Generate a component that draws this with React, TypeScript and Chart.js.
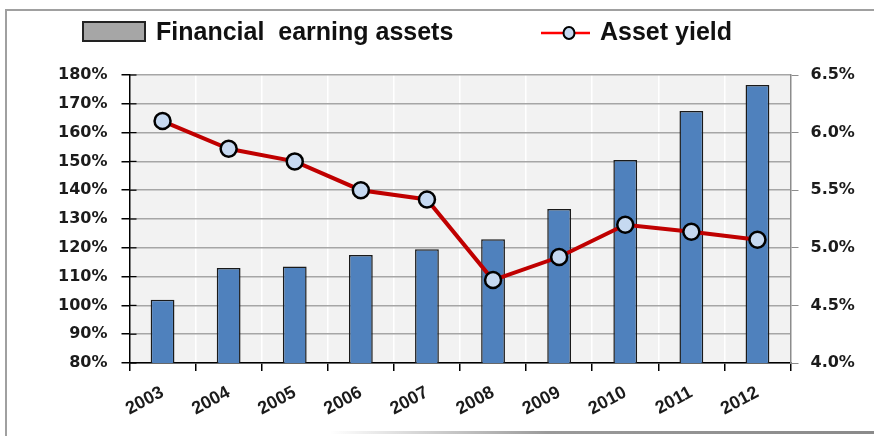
import React, { useEffect, useRef } from "react";
import { Chart, registerables } from "chart.js";

Chart.register(...registerables);

const years = ["2003", "2004", "2005", "2006", "2007", "2008", "2009", "2010", "2011", "2012"];
const assets = [102, 113, 113.5, 117.5, 119.5, 123, 133.5, 150.5, 167.5, 176.5];
const assetYield = [6.1, 5.86, 5.75, 5.5, 5.42, 4.72, 4.92, 5.2, 5.14, 5.07];
const barLabel = "Financial earning assets";
const lineLabel = "Asset yield";

const tickFont = { family: "DejaVu Sans", size: 16, weight: "bold" as const };
const xFont = { family: "Liberation Sans", size: 18, weight: "bold" as const };

const innerTicks = {
  id: "innerTicks",
  afterDatasetsDraw(chart: any) {
    const { ctx } = chart;
    const y = chart.scales.y;
    ctx.save();
    ctx.strokeStyle = "#000";
    ctx.lineWidth = 1.2;
    y.ticks.forEach((_t: any, i: number) => {
      const py = y.getPixelForTick(i);
      ctx.beginPath();
      ctx.moveTo(y.right, py);
      ctx.lineTo(y.right + 7, py);
      ctx.stroke();
    });
    ctx.restore();
  },
};

export default function App() {
  const ref = useRef<HTMLCanvasElement>(null);
  useEffect(() => {
    if (!ref.current) return;
    const chart = new Chart(ref.current, {
      type: "bar",
      data: {
        labels: years,
        datasets: [
          {
            type: "line",
            label: lineLabel,
            data: assetYield,
            yAxisID: "y1",
            borderColor: "#c00000",
            borderWidth: 4,
            pointRadius: 8,
            pointBackgroundColor: "#c6d9f1",
            pointBorderColor: "#000",
            pointBorderWidth: 2.5,
            tension: 0,
            order: 0,
          } as any,
          {
            type: "bar",
            label: barLabel,
            data: assets,
            yAxisID: "y",
            backgroundColor: "#4f81bd",
            borderColor: "#1a1a1a",
            borderWidth: 1.5,
            barPercentage: 0.36,
            categoryPercentage: 1,
            order: 1,
          },
        ],
      },
      options: {
        animation: false,
        responsive: false,
        maintainAspectRatio: false,
        layout: { padding: { top: 75, left: 0, right: 0, bottom: 0 } },
        plugins: { legend: { display: false }, tooltip: { enabled: false } },
        scales: {
          x: {
            offset: true,
            grid: { offset: true, color: "#ffffff", lineWidth: 1.5, tickColor: "#000", tickLength: 8 },
            border: { color: "#000", width: 1.5 },
            ticks: {
              font: xFont,
              color: "#1b1b1b",
              maxRotation: 28,
              minRotation: 28,
              autoSkip: false,
              padding: 11,
            },
            afterFit(s: any) {
              s.height = 73;
            },
          },
          y: {
            position: "left",
            min: 80,
            max: 180,
            ticks: {
              stepSize: 10,
              font: tickFont,
              color: "#1b1b1b",
              padding: 14,
              callback: (v: any) => v + "%",
            },
            grid: { color: "#a6a6a6", lineWidth: 1.5, tickColor: "#000", tickLength: 8 },
            border: { color: "#000", width: 1.5 },
            afterFit(s: any) {
              s.width = 129.5;
            },
          },
          y1: {
            position: "right",
            min: 4.0,
            max: 6.5,
            ticks: {
              stepSize: 0.5,
              font: tickFont,
              color: "#1b1b1b",
              padding: 12,
              callback: (v: any) => Number(v).toFixed(1) + "%",
            },
            grid: { drawOnChartArea: false, color: "#8c8c8c", tickColor: "#8c8c8c", tickLength: 8 },
            border: { color: "#8c8c8c", width: 1.5 },
            afterFit(s: any) {
              s.width = 83.5;
            },
          },
        },
      },
      plugins: [
        innerTicks,
        {
          id: "plotBg",
          beforeDraw(c: any) {
            const a = c.chartArea;
            c.ctx.save();
            c.ctx.fillStyle = "#f2f2f2";
            c.ctx.fillRect(a.left, a.top, a.right - a.left, a.bottom - a.top);
            c.ctx.restore();
          },
        },
      ],
    });
    return () => chart.destroy();
  }, []);

  const legendText: React.CSSProperties = {
    position: "absolute",
    top: 16,
    fontFamily: "Liberation Sans, Arial, sans-serif",
    fontWeight: "bold",
    fontSize: 25,
    lineHeight: "30px",
    color: "#111",
    whiteSpace: "pre",
  };

  return (
    <div style={{ position: "fixed", left: 0, top: 0, width: 874, height: 436, background: "#fff", overflow: "hidden" }}>
      <canvas ref={ref} width={874} height={436} style={{ position: "absolute", left: 0, top: 0 }} />
      <div style={{ position: "absolute", left: 5, top: 9, width: 880, height: 440, borderTop: "2px solid #a0a0a0", borderLeft: "2px solid #a0a0a0", boxSizing: "border-box" }} />
      <div style={{ position: "absolute", left: 330, top: 431, width: 544, height: 3, background: "linear-gradient(to right, #ffffff, #9a9a9a 40%, #8a8a8a)" }} />
      <div style={{ position: "absolute", left: 82, top: 21, width: 64, height: 21, boxSizing: "border-box", background: "#a6a6a6", border: "2px solid #222" }} />
      <div style={{ ...legendText, left: 156 }}>{"Financial  earning assets"}</div>
      <svg style={{ position: "absolute", left: 538, top: 22 }} width={56} height={24}>
        <line x1={3} y1={11} x2={52} y2={11} stroke="#ff0000" strokeWidth={2.5} />
        <ellipse cx={31} cy={11} rx={5.5} ry={6} fill="#c6d9f1" stroke="#000" strokeWidth={2} />
      </svg>
      <div style={{ ...legendText, left: 600 }}>{lineLabel}</div>
    </div>
  );
}
